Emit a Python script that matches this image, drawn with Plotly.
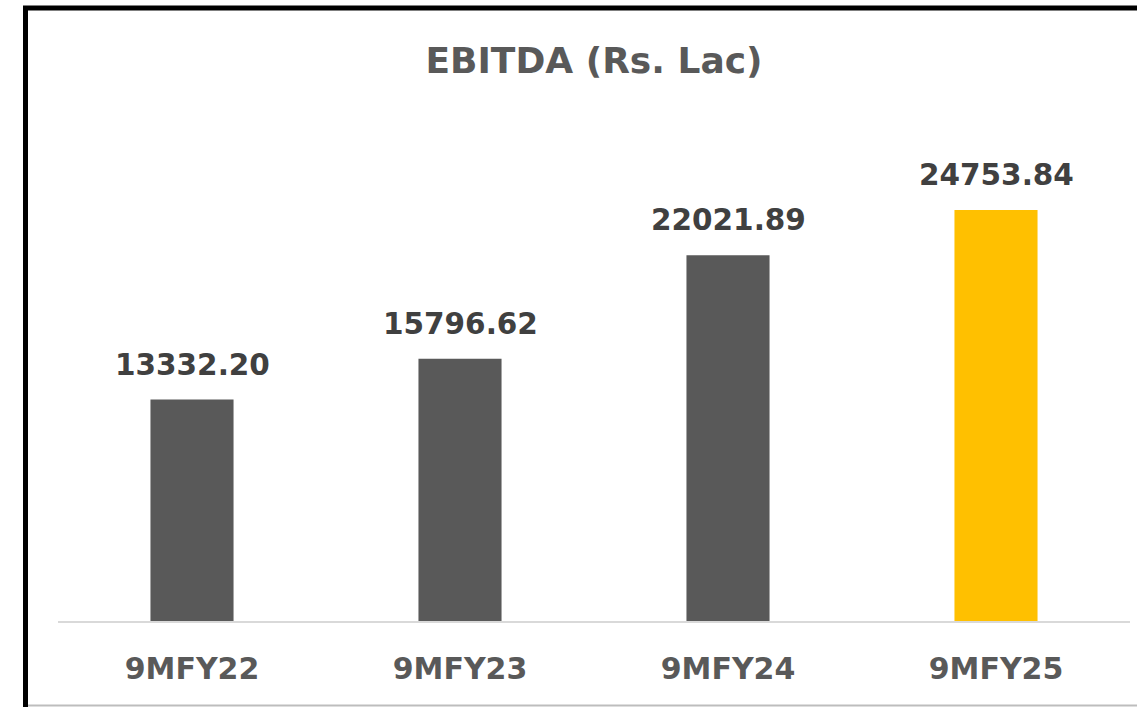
import plotly.graph_objects as go

# data
periods = ["9MFY22", "9MFY23", "9MFY24", "9MFY25"]
ebitda = [13332.20, 15796.62, 22021.89, 24753.84]
bar_colors = ["#595959", "#595959", "#595959", "#FFC000"]
value_labels = ["13332.20", "15796.62", "22021.89", "24753.84"]

FONT = "DejaVu Sans"

fig = go.Figure()

fig.add_trace(go.Bar(
    x=periods,
    y=ebitda,
    marker=dict(color=bar_colors, line=dict(width=0)),
    hoverinfo="skip",
    showlegend=False
))

# value labels sit a fixed distance above each bar
for x, y, label in zip(periods, ebitda, value_labels):
    fig.add_annotation(
        x=x, y=y, text=f"<b>{label}</b>",
        showarrow=False, yanchor="bottom", yshift=16,
        font=dict(family=FONT, size=29.5, color="#404040")
    )

fig.update_layout(
    width=1137,
    height=707,
    margin=dict(l=58, r=7, t=100, b=86),
    paper_bgcolor="white",
    plot_bgcolor="white",
    bargap=0.69,
    title=dict(
        text="<b>EBITDA (Rs. Lac)</b>",
        x=0.5, xref="paper", xanchor="center",
        y=1 - 60 / 707, yref="container", yanchor="middle",
        font=dict(family=FONT, size=36, color="#595959")
    )
)

fig.update_xaxes(
    showline=True, linecolor="#D9D9D9", linewidth=2,
    ticks="", showgrid=False,
    ticklabelstandoff=20,
    tickfont=dict(family=FONT, size=30, color="#595959")
)
fig.update_xaxes(tickprefix="<b>", ticksuffix="</b>")
fig.update_yaxes(range=[0, 31370], visible=False, showgrid=False)

# frame around the picture (black at top and left, light grey at the bottom)
def px_x(p):
    return (p - 58) / 1072

def px_y(p):
    return (621 - p) / 521

fig.add_shape(type="line", xref="paper", yref="paper",
              x0=px_x(25.5), x1=px_x(25.5), y0=px_y(6), y1=px_y(712),
              line=dict(color="black", width=5))
fig.add_shape(type="line", xref="paper", yref="paper",
              x0=px_x(23), x1=px_x(1140), y0=px_y(8), y1=px_y(8),
              line=dict(color="black", width=5))
fig.add_shape(type="line", xref="paper", yref="paper",
              x0=px_x(28), x1=px_x(1140), y0=px_y(705.5), y1=px_y(705.5),
              line=dict(color="#BDBDBD", width=2))

# drop the default page margin so the figure sits at the window origin
fig.write_html("out.html", config={"displayModeBar": False},
               post_script="document.body.style.margin='0';document.body.style.overflow='hidden';")
